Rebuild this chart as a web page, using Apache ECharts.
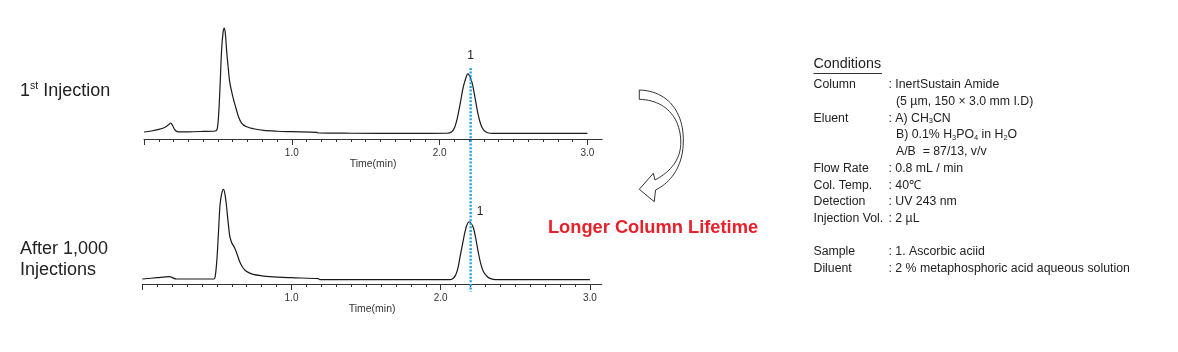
<!DOCTYPE html>
<html>
<head>
<meta charset="utf-8">
<script src="https://cdn.jsdelivr.net/npm/echarts@6/dist/echarts.min.js"></script>
<style>
html,body{margin:0;padding:0;background:#fff;}
#c{width:1178px;height:352px;}
</style>
</head>
<body>
<div id="c"></div>
<script>
// ---- Data (time in min, relative intensity) ----
const firstInjection = [
  [0.00,6.3],[0.05,7.2],[0.10,8.6],[0.14,10.4],[0.165,12.6],[0.18,14.4],[0.195,11.7],[0.21,8.1],
  [0.23,6.5],[0.30,6.5],[0.40,6.8],[0.48,7.2],[0.495,9.0],[0.505,22],[0.515,49],[0.525,80],
  [0.535,96],[0.543,100],[0.55,95.5],[0.56,78],[0.57,64],[0.58,51.4],[0.60,38.7],[0.62,28.8],
  [0.64,19.8],[0.66,14.4],[0.69,11.3],[0.75,9.0],[0.81,7.7],[0.90,7.0],[1.00,6.6],[1.17,6.0],
  [1.18,5.4],[1.40,5.2],[1.80,5.1],[2.05,5.2],[2.08,6.3],[2.10,9.9],[2.12,18.9],[2.14,32.4],
  [2.16,46.8],[2.18,55.9],[2.19,58.6],[2.20,57.7],[2.22,50.5],[2.24,36.9],[2.26,22.5],[2.28,12.6],
  [2.30,7.7],[2.32,5.9],[2.36,5.1],[2.60,5.0],[3.00,5.0]
];
const after1000 = [
  [0.00,4.5],[0.10,5.7],[0.18,6.6],[0.23,4.5],[0.48,4.5],[0.49,8.1],[0.50,22],[0.51,45],
  [0.52,69.6],[0.53,80],[0.54,85],[0.545,85.3],[0.555,80],[0.565,69.6],[0.575,56],[0.587,42.6],
  [0.60,37],[0.62,32.2],[0.64,25],[0.653,20.1],[0.67,15.5],[0.687,12.6],[0.71,10.5],[0.743,8.7],
  [0.80,7.4],[0.855,6.6],[1.00,5.7],[1.18,4.8],[1.19,3.9],[2.06,3.9],[2.08,4.8],[2.10,8.0],
  [2.115,14],[2.13,24.6],[2.145,35],[2.163,47.1],[2.175,53],[2.19,56.1],[2.205,54.5],[2.22,50.2],
  [2.235,41],[2.253,27.7],[2.27,17.5],[2.287,11.1],[2.31,7.0],[2.33,5.1],[2.37,3.9],[3.00,3.9]
];
const peakTime = 2.21;          // retention time of peak 1 (dotted marker)
const peakLabel = '1';
const majorTicks = [0, 1, 2, 3];
const labelTicks = [1, 2, 3];
const minorStep = 0.1;
const axisName = 'Time(min)';
const conditionRows = [
  ['Column', ': InertSustain Amide'],
  ['', '(5 µm, 150 × 3.0 mm I.D)'],
  ['Eluent', ': A) CH|3|CN'],
  ['', 'B) 0.1% H|3|PO|4| in H|2|O'],
  ['', 'A/B  = 87/13, v/v'],
  ['Flow Rate', ': 0.8 mL / min'],
  ['Col. Temp.', ': 40℃'],
  ['Detection', ': UV 243 nm'],
  ['Injection Vol.', ': 2 µL'],
  ['', ''],
  ['Sample', ': 1. Ascorbic aciid'],
  ['Diluent', ': 2 % metaphosphoric acid aqueous solution']
];

const minorTicks = [];
for (let i = 0; i * minorStep <= 3.0001; i++) minorTicks.push(+(i * minorStep).toFixed(2));

const FONT = 'Arial, "Liberation Sans", Helvetica, sans-serif';
const chart = echarts.init(document.getElementById('c'), null, {renderer: 'canvas'});

function xAxes(gridIndex, max, nameGap) {
  return [
    {
      type: 'value', gridIndex, min: 0, max, position: 'bottom', offset: 0,
      name: axisName, nameLocation: 'middle', nameGap,
      nameTextStyle: {fontFamily: FONT, fontSize: 10.5, color: '#333'},
      axisLine: {show: true, lineStyle: {color: '#333', width: 1}},
      axisTick: {show: true, length: 3, customValues: minorTicks, lineStyle: {color: '#333'}},
      axisLabel: {show: true, customValues: labelTicks, margin: 9, fontFamily: FONT, fontSize: 10, color: '#333',
        formatter: v => v.toFixed(1)},
      splitLine: {show: false}
    },
    {
      type: 'value', gridIndex, min: 0, max, position: 'bottom', offset: 0,
      axisLine: {show: false},
      axisTick: {show: true, length: 6, customValues: majorTicks, lineStyle: {color: '#333'}},
      axisLabel: {show: false},
      splitLine: {show: false}
    }
  ];
}

const option = {
  animation: false,
  backgroundColor: '#fff',
  grid: [
    {left: 144, width: 3.1 * 147.8, top: 28, height: 111, containLabel: false, outerBoundsMode: 'none'},
    {left: 142.3, width: 3.08 * 149.2, top: 173, height: 111, containLabel: false, outerBoundsMode: 'none'}
  ],
  xAxis: [...xAxes(0, 3.1, 16), ...xAxes(1, 3.08, 17)],
  yAxis: [
    {type: 'value', gridIndex: 0, min: 0, max: 100, show: false},
    {type: 'value', gridIndex: 1, min: 0, max: 100, show: false}
  ],
  series: [
    {type: 'line', xAxisIndex: 0, yAxisIndex: 0, data: firstInjection, showSymbol: false, smooth: 0.3,
      lineStyle: {color: '#1a1a1a', width: 1.2}, clip: false},
    {type: 'line', xAxisIndex: 2, yAxisIndex: 1, data: after1000, showSymbol: false, smooth: 0.3,
      lineStyle: {color: '#1a1a1a', width: 1.2}, clip: false}
  ]
};
chart.setOption(option);

// positions derived from the chart's own scales
const topPeak = firstInjection.reduce((a, b) => (b[0] > 2 && b[1] > a[1] ? b : a), [2, 0]);
const botPeak = after1000.reduce((a, b) => (b[0] > 2 && b[1] > a[1] ? b : a), [2, 0]);
const pTopPeak = chart.convertToPixel({xAxisIndex: 0, yAxisIndex: 0}, topPeak);
const pBotPeak = chart.convertToPixel({xAxisIndex: 2, yAxisIndex: 1}, botPeak);
const pMarkTop = chart.convertToPixel({xAxisIndex: 0, yAxisIndex: 0}, [peakTime, 64]);
const pMarkBot = chart.convertToPixel({xAxisIndex: 2, yAxisIndex: 1}, [peakTime, -7]);

// sample cubic bezier segments of the decorative arrow outline
function cubic(p0, p1, p2, p3, n) {
  const out = [];
  for (let i = 1; i <= n; i++) {
    const t = i / n, u = 1 - t;
    out.push([u*u*u*p0[0] + 3*u*u*t*p1[0] + 3*u*t*t*p2[0] + t*t*t*p3[0],
              u*u*u*p0[1] + 3*u*u*t*p1[1] + 3*u*t*t*p2[1] + t*t*t*p3[1]]);
  }
  return out;
}
const arrowPts = [[639.3, 90]]
  .concat(cubic([639.3, 90], [668, 91], [684, 112], [683.3, 142], 24))
  .concat(cubic([683.3, 142], [683, 165], [672, 182], [655.5, 190], 20))
  .concat([[654.3, 201.7], [639.3, 189.3], [653.3, 173.3], [655, 180]])
  .concat(cubic([655, 180], [670, 172], [681, 160], [680.8, 142], 20))
  .concat(cubic([680.8, 142], [680.5, 117], [665, 100], [639.3, 99.3], 24));

const graphic = [];
graphic.push({type: 'line', shape: {x1: pMarkTop[0], y1: pMarkTop[1], x2: pMarkTop[0], y2: pMarkBot[1]},
  style: {stroke: '#1fa3e3', lineWidth: 2.4, lineDash: [2, 1.6]}, z: 10});
graphic.push({type: 'text', x: pTopPeak[0] + 3, y: pTopPeak[1] - 18,
  style: {text: peakLabel, fontFamily: FONT, fontSize: 12, fill: '#222', align: 'center', verticalAlign: 'middle'}, z: 11});
graphic.push({type: 'text', x: pBotPeak[0] + 11, y: pBotPeak[1] - 10,
  style: {text: peakLabel, fontFamily: FONT, fontSize: 12, fill: '#222', align: 'center', verticalAlign: 'middle'}, z: 11});
graphic.push({type: 'text', x: 20, y: 91,
  style: {text: '{n|1}{s|st}{n| Injection}', verticalAlign: 'middle',
    rich: {n: {fontSize: 18, fontFamily: FONT, fill: '#222', lineHeight: 20},
           s: {fontSize: 10.5, fontFamily: FONT, fill: '#222', verticalAlign: 'top', lineHeight: 20}}}});
graphic.push({type: 'text', x: 20, y: 259.5,
  style: {text: 'After 1,000\nInjections', fontFamily: FONT, fontSize: 18, lineHeight: 21, fill: '#222', verticalAlign: 'middle'}});
graphic.push({type: 'polygon', shape: {points: arrowPts},
  style: {fill: '#fff', stroke: '#333', lineWidth: 1}});
graphic.push({type: 'text', x: 653, y: 228,
  style: {text: 'Longer Column Lifetime', fontFamily: FONT, fontWeight: 'bold', fontSize: 18.3, fill: '#e8202a',
    align: 'center', verticalAlign: 'middle'}});
graphic.push({type: 'text', x: 813.5, y: 64,
  style: {text: 'Conditions', fontFamily: FONT, fontSize: 14.3, fill: '#222', verticalAlign: 'middle'}});
graphic.push({type: 'line', shape: {x1: 813.5, y1: 73.5, x2: 882, y2: 73.5}, style: {stroke: '#333', lineWidth: 1}});
function richValue(s) {
  const parts = s.split('|');
  return parts.map((p, i) => (i % 2 ? '{s|' + p + '}' : '{a|' + p + '}')).join('');
}
conditionRows.forEach((row, i) => {
  const y = 85 + i * 16.7;
  if (row[0]) graphic.push({type: 'text', x: 813.5, y,
    style: {text: row[0], fontFamily: FONT, fontSize: 12.3, fill: '#222', verticalAlign: 'middle'}});
  if (row[1]) {
    const isCont = !row[1].startsWith(':');
    graphic.push({type: 'text', x: isCont ? 896 : 888.5, y,
      style: {text: richValue(row[1]), verticalAlign: 'middle',
        rich: {a: {fontFamily: FONT, fontSize: 12.3, fill: '#222', lineHeight: 14},
               s: {fontFamily: FONT, fontSize: 7.5, fill: '#222', verticalAlign: 'bottom', lineHeight: 14}}}});
  }
});
chart.setOption({graphic});
</script>
</body>
</html>
